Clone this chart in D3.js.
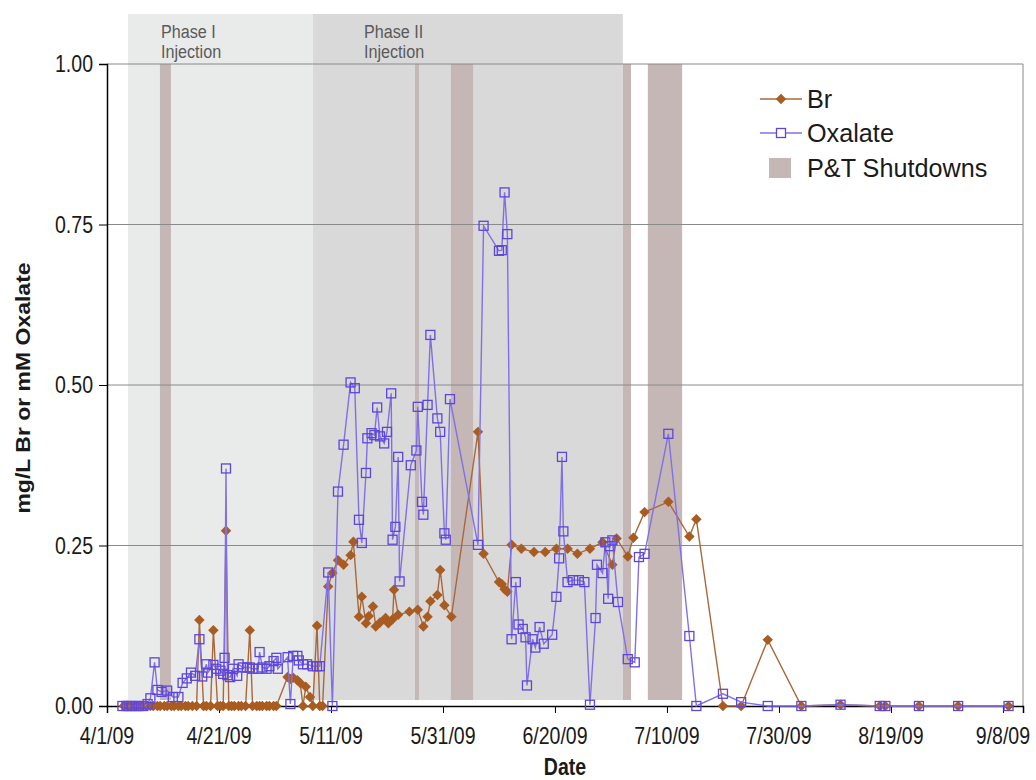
<!DOCTYPE html>
<html>
<head>
<meta charset="utf-8">
<script src="https://cdn.jsdelivr.net/npm/d3@7"></script>
<style>
  body { margin: 0; background: #fff; }
  text { font-family: Arial, "Liberation Sans", sans-serif; }
</style>
</head>
<body>
<svg id="chart" width="1036" height="780"></svg>
<script>
// ---- data ----
var tickLabels = ["4/1/09", "4/21/09", "5/11/09", "5/31/09", "6/20/09", "7/10/09", "7/30/09", "8/19/09", "9/8/09"];
var yTicks = [0, 0.25, 0.5, 0.75, 1.0];

var phaseNames = [["Phase I", "Injection"], ["Phase II", "Injection"]];
var phaseStart = ["4/4/09 18", "5/7/09 19"];
var phaseEnd   = ["5/7/09 19", "7/2/09 3"];

var shutStart = ["4/10/09 11", "5/26/09 0", "6/1/09 10", "7/2/09 3", "7/6/09 14"];
var shutEnd   = ["4/12/09 10", "5/26/09 17", "6/5/09 9", "7/3/09 14", "7/12/09 17"];

var brDates = ["4/4/09 0", "4/4/09 18", "4/5/09 6", "4/6/09 0", "4/6/09 12", "4/7/09 6", "4/8/09 0", "4/8/09 18",
  "4/9/09 6", "4/10/09 0", "4/10/09 12", "4/11/09 6", "4/11/09 18", "4/12/09 12", "4/13/09 0", "4/13/09 18",
  "4/14/09 6", "4/15/09 0", "4/15/09 12", "4/16/09 6", "4/17/09 0", "4/17/09 12", "4/18/09 6", "4/18/09 18",
  "4/19/09 12", "4/20/09 0", "4/20/09 18", "4/21/09 6", "4/21/09 18", "4/22/09 6", "4/22/09 18", "4/23/09 6",
  "4/23/09 18", "4/24/09 12", "4/25/09 0", "4/25/09 18", "4/26/09 12", "4/27/09 0", "4/27/09 18", "4/28/09 6",
  "4/28/09 18", "4/29/09 12", "4/30/09 0", "4/30/09 18", "5/1/09 6", "5/3/09 6", "5/3/09 18", "5/4/09 6",
  "5/5/09 0", "5/5/09 12", "5/6/09 0", "5/6/09 12", "5/7/09 6", "5/7/09 18", "5/8/09 12", "5/9/09 0",
  "5/9/09 12", "5/10/09 12", "5/11/09 6", "5/12/09 6", "5/13/09 6", "5/14/09 12", "5/15/09 0", "5/16/09 0",
  "5/16/09 12", "5/17/09 6", "5/17/09 18", "5/18/09 12", "5/19/09 0", "5/19/09 18", "5/20/09 18", "5/21/09 6",
  "5/22/09 0", "5/22/09 6", "5/23/09 0", "5/25/09 0", "5/26/09 12", "5/27/09 12", "5/28/09 6", "5/28/09 18",
  "5/30/09 0", "5/30/09 12", "5/31/09 6", "6/1/09 12", "6/6/09 6", "6/7/09 6", "6/10/09 0", "6/10/09 12",
  "6/11/09 0", "6/11/09 12", "6/12/09 6", "6/14/09 0", "6/16/09 6", "6/18/09 6", "6/20/09 6", "6/22/09 6",
  "6/24/09 0", "6/26/09 6", "6/28/09 12", "6/30/09 6", "7/1/09 0", "7/3/09 0", "7/4/09 0", "7/6/09 0",
  "7/10/09 6", "7/14/09 0", "7/15/09 6", "7/20/09 0", "7/23/09 6", "7/28/09 0", "8/3/09 0", "8/10/09 0",
  "8/17/09 0", "8/18/09 0", "8/24/09 0", "8/31/09 0", "9/9/09 0"];
var brValues = [0, 0, 0, 0, 0, 0, 0, 0,
  0, 0, 0, 0, 0, 0, 0, 0,
  0, 0, 0, 0, 0, 0.134, 0, 0,
  0, 0.118, 0, 0, 0, 0.273, 0, 0,
  0, 0, 0, 0, 0.118, 0, 0, 0,
  0, 0, 0, 0, 0, 0.045, 0.042, 0.044,
  0.040, 0.036, 0, 0.030, 0.014, 0, 0.125, 0,
  0, 0.186, 0.207, 0.227, 0.220, 0.235, 0.256, 0.139,
  0.170, 0.129, 0.140, 0.155, 0.124, 0.130, 0.137, 0.129,
  0.135, 0.181, 0.142, 0.147, 0.150, 0.124, 0.139, 0.163,
  0.173, 0.212, 0.157, 0.139, 0.427, 0.237, 0.193, 0.190,
  0.182, 0.178, 0.251, 0.245, 0.240, 0.240, 0.245, 0.245,
  0.237, 0.245, 0.255, 0.220, 0.261, 0.233, 0.262, 0.302,
  0.318, 0.264, 0.291, 0, 0, 0.103, 0, 0.002,
  0, 0, 0, 0, 0];

var oxDates = ["4/3/09 18", "4/4/09 12", "4/5/09 0", "4/5/09 12", "4/6/09 6", "4/6/09 18", "4/7/09 12", "4/8/09 6",
  "4/8/09 18", "4/9/09 12", "4/10/09 0", "4/10/09 18", "4/11/09 18", "4/12/09 18", "4/13/09 18", "4/14/09 12",
  "4/15/09 6", "4/16/09 0", "4/16/09 18", "4/17/09 12", "4/18/09 0", "4/18/09 18", "4/19/09 0", "4/20/09 0",
  "4/20/09 12", "4/21/09 6", "4/21/09 18", "4/22/09 0", "4/22/09 6", "4/22/09 12", "4/23/09 0", "4/23/09 12",
  "4/24/09 6", "4/24/09 12", "4/25/09 6", "4/26/09 0", "4/26/09 12", "4/27/09 0", "4/28/09 0", "4/28/09 6",
  "4/28/09 18", "4/29/09 12", "4/30/09 0", "4/30/09 18", "5/1/09 6", "5/1/09 12", "5/3/09 6", "5/3/09 18",
  "5/4/09 6", "5/5/09 0", "5/5/09 6", "5/6/09 0", "5/6/09 18", "5/7/09 18", "5/8/09 12", "5/9/09 0",
  "5/10/09 12", "5/11/09 6", "5/12/09 6", "5/13/09 6", "5/14/09 12", "5/15/09 6", "5/16/09 0", "5/16/09 12",
  "5/17/09 6", "5/17/09 12", "5/18/09 6", "5/18/09 18", "5/19/09 6", "5/19/09 18", "5/20/09 12", "5/21/09 0",
  "5/21/09 18", "5/22/09 0", "5/22/09 12", "5/23/09 0", "5/23/09 6", "5/25/09 6", "5/26/09 6", "5/26/09 12",
  "5/27/09 6", "5/27/09 12", "5/28/09 6", "5/28/09 18", "5/30/09 0", "5/30/09 12", "5/31/09 6", "5/31/09 12",
  "6/1/09 6", "6/6/09 6", "6/7/09 6", "6/10/09 0", "6/10/09 12", "6/11/09 0", "6/11/09 12", "6/12/09 6",
  "6/13/09 0", "6/13/09 12", "6/14/09 6", "6/14/09 18", "6/15/09 0", "6/16/09 0", "6/16/09 12", "6/17/09 6",
  "6/18/09 0", "6/19/09 12", "6/20/09 6", "6/20/09 18", "6/21/09 6", "6/21/09 12", "6/22/09 6", "6/23/09 6",
  "6/24/09 6", "6/25/09 6", "6/26/09 6", "6/27/09 6", "6/27/09 12", "6/28/09 12", "6/29/09 0", "6/29/09 12",
  "6/29/09 18", "6/30/09 6", "7/1/09 6", "7/3/09 0", "7/4/09 6", "7/5/09 0", "7/6/09 0", "7/10/09 6",
  "7/14/09 0", "7/15/09 6", "7/20/09 0", "7/23/09 6", "7/28/09 0", "8/3/09 0", "8/10/09 0", "8/17/09 0",
  "8/18/09 0", "8/24/09 0", "8/31/09 0", "9/9/09 0"];
var oxValues = [0, 0, 0, 0, 0, 0, 0, 0.003,
  0.012, 0.068, 0.025, 0.022, 0.024, 0.014, 0.014, 0.036,
  0.043, 0.052, 0.047, 0.104, 0.046, 0.065, 0.052, 0.064,
  0.058, 0.055, 0.050, 0.075, 0.370, 0.048, 0.045, 0.058,
  0.047, 0.065, 0.060, 0.060, 0.060, 0.058, 0.058, 0.084,
  0.060, 0.058, 0.062, 0.070, 0.075, 0.058, 0.076, 0.003,
  0.078, 0.078, 0.071, 0.065, 0.065, 0.062, 0.062, 0.062,
  0.208, 0, 0.334, 0.407, 0.504, 0.495, 0.290, 0.254,
  0.363, 0.417, 0.425, 0.422, 0.465, 0.420, 0.409, 0.427,
  0.487, 0.259, 0.279, 0.388, 0.194, 0.375, 0.398, 0.466,
  0.318, 0.298, 0.469, 0.578, 0.448, 0.427, 0.269, 0.259,
  0.478, 0.251, 0.748, 0.709, 0.710, 0.800, 0.735, 0.104,
  0.193, 0.127, 0.120, 0.107, 0.032, 0.104, 0.091, 0.123,
  0.097, 0.111, 0.170, 0.230, 0.388, 0.272, 0.193, 0.196,
  0.196, 0.193, 0.002, 0.137, 0.220, 0.207, 0.255, 0.167,
  0.249, 0.258, 0.162, 0.073, 0.068, 0.232, 0.237, 0.424,
  0.109, 0, 0.019, 0.006, 0, 0, 0.002, 0,
  0, 0, 0, 0];

// ---- layout ----
var parse = d3.timeParse("%m/%d/%y %H");
var parseDay = d3.timeParse("%m/%d/%y");
var plotLeft = 107, plotRight = 1023, plotTop = 64, plotBottom = 706;
var bandTop = 14, bandBottom = 700;
var squeeze = 0.85; // the figure's text is horizontally narrow
var phaseLabelOffset = [33, 51];

var svg = d3.select("#chart");

var x = d3.scaleTime()
    .domain([parseDay("4/1/09"), parse("9/11/09 14")])
    .range([plotLeft, plotRight]);
var y = d3.scaleLinear()
    .domain([0, 1])
    .range([plotBottom, plotTop]);

function addText(g, px, py, str, size, opts) {
    opts = opts || {};
    var t = g.append("text")
        .attr("transform", "translate(" + px + "," + py + ") scale(" + (opts.sx || squeeze) + ",1)" + (opts.rotate ? " rotate(" + opts.rotate + ")" : ""))
        .attr("font-size", size)
        .attr("text-anchor", opts.anchor || "start")
        .attr("fill", opts.fill || "#1a1a1a")
        .text(str);
    if (opts.bold) t.attr("font-weight", "bold");
    return t;
}

// phase bands
var phaseFill = ["#e9eaea", "#d9d9d9"];
svg.append("g").selectAll("rect")
    .data(phaseStart)
    .enter().append("rect")
    .attr("x", function(d) { return x(parse(d)); })
    .attr("y", bandTop)
    .attr("width", function(d, i) { return x(parse(phaseEnd[i])) - x(parse(d)); })
    .attr("height", bandBottom - bandTop)
    .attr("fill", function(d, i) { return phaseFill[i]; });

// shutdown bands
svg.append("g").selectAll("rect")
    .data(shutStart)
    .enter().append("rect")
    .attr("x", function(d) { return x(parse(d)); })
    .attr("y", plotTop)
    .attr("width", function(d, i) { return x(parse(shutEnd[i])) - x(parse(d)); })
    .attr("height", bandBottom - plotTop)
    .attr("fill", "#c6b7b7");

// phase labels
var labG = svg.append("g");
phaseNames.forEach(function(n, i) {
    var px = x(parse(phaseStart[i])) + phaseLabelOffset[i];
    addText(labG, px, 38, n[0], 19, { fill: "#5a5a5a" });
    addText(labG, px, 58, n[1], 19, { fill: "#5a5a5a" });
});

// gridlines
svg.append("g").selectAll("line")
    .data(yTicks.slice(1))
    .enter().append("line")
    .attr("x1", plotLeft).attr("x2", plotRight)
    .attr("y1", function(d) { return y(d); })
    .attr("y2", function(d) { return y(d); })
    .attr("stroke", "#8a8a8a")
    .attr("stroke-width", 1);

// right border
svg.append("line")
    .attr("x1", plotRight).attr("x2", plotRight)
    .attr("y1", plotTop).attr("y2", plotBottom)
    .attr("stroke", "#8a8a8a");

// axes
var xAxis = d3.axisBottom(x)
    .tickValues(tickLabels.map(function(s) { return parseDay(s); }))
    .tickSize(7)
    .tickFormat("");
var gx = svg.append("g")
    .attr("transform", "translate(0," + plotBottom + ")")
    .call(xAxis);
gx.select(".domain").attr("stroke", "#000").attr("stroke-width", 1.5);
gx.selectAll(".tick line").attr("stroke", "#000");

var yAxis = d3.axisLeft(y)
    .tickValues(yTicks)
    .tickSize(8)
    .tickFormat("");
var gy = svg.append("g")
    .attr("transform", "translate(" + plotLeft + ",0)")
    .call(yAxis);
gy.select(".domain").attr("stroke", "#000").attr("stroke-width", 1.5);
gy.selectAll(".tick line").attr("stroke", "#000");

var tickG = svg.append("g");
tickLabels.forEach(function(s) {
    addText(tickG, x(parseDay(s)), 744, s, 23, { anchor: "middle" });
});
yTicks.forEach(function(v) {
    addText(tickG, 93, y(v) + 8, d3.format(".2f")(v), 23, { anchor: "end" });
});

// axis titles
addText(svg, 565, 775, "Date", 23, { anchor: "middle", bold: true });
addText(svg, 30, 388, "mg/L Br or mM Oxalate", 23, { anchor: "middle", bold: true, rotate: -90 });

// series
var brColor = "#a85c22", brLine = "#a8683c";
var oxColor = "#5e45dc", oxLine = "#8070e6";

var brData = brDates.map(function(d, i) { return { date: parse(d), value: brValues[i] }; });
var oxData = oxDates.map(function(d, i) { return { date: parse(d), value: oxValues[i] }; });

var line = d3.line()
    .x(function(d) { return x(d.date); })
    .y(function(d) { return y(d.value); });

svg.append("path")
    .datum(brData)
    .attr("d", line)
    .attr("fill", "none")
    .attr("stroke", brLine)
    .attr("stroke-width", 1.4);

svg.append("g").selectAll("path")
    .data(brData)
    .enter().append("path")
    .attr("d", d3.symbol().type(d3.symbolDiamond2).size(70))
    .attr("transform", function(d) { return "translate(" + x(d.date) + "," + y(d.value) + ")"; })
    .attr("fill", brColor);

svg.append("path")
    .datum(oxData)
    .attr("d", line)
    .attr("fill", "none")
    .attr("stroke", oxLine)
    .attr("stroke-width", 1.4);

svg.append("g").selectAll("rect")
    .data(oxData)
    .enter().append("rect")
    .attr("x", function(d) { return x(d.date) - 4.5; })
    .attr("y", function(d) { return y(d.value) - 4.5; })
    .attr("width", 9).attr("height", 9)
    .attr("fill", "none")
    .attr("stroke", oxColor)
    .attr("stroke-width", 1.3);

// legend
var leg = svg.append("g");
leg.append("line").attr("x1", 760).attr("x2", 802).attr("y1", 99).attr("y2", 99)
    .attr("stroke", brLine).attr("stroke-width", 1.4);
leg.append("path").attr("d", d3.symbol().type(d3.symbolDiamond2).size(70))
    .attr("transform", "translate(781,99)").attr("fill", brColor);
addText(leg, 807, 108, "Br", 26, { sx: 0.97 });

leg.append("line").attr("x1", 760).attr("x2", 802).attr("y1", 133).attr("y2", 133)
    .attr("stroke", oxLine).attr("stroke-width", 1.4);
leg.append("rect").attr("x", 776.5).attr("y", 128.5).attr("width", 9).attr("height", 9)
    .attr("fill", "#fff").attr("stroke", oxColor).attr("stroke-width", 1.3);
addText(leg, 807, 142, "Oxalate", 26, { sx: 0.97 });

leg.append("rect").attr("x", 769).attr("y", 158).attr("width", 22).attr("height", 20)
    .attr("fill", "#c6b7b7");
addText(leg, 807, 177, "P&T Shutdowns", 26, { sx: 0.97 });
</script>
</body>
</html>
